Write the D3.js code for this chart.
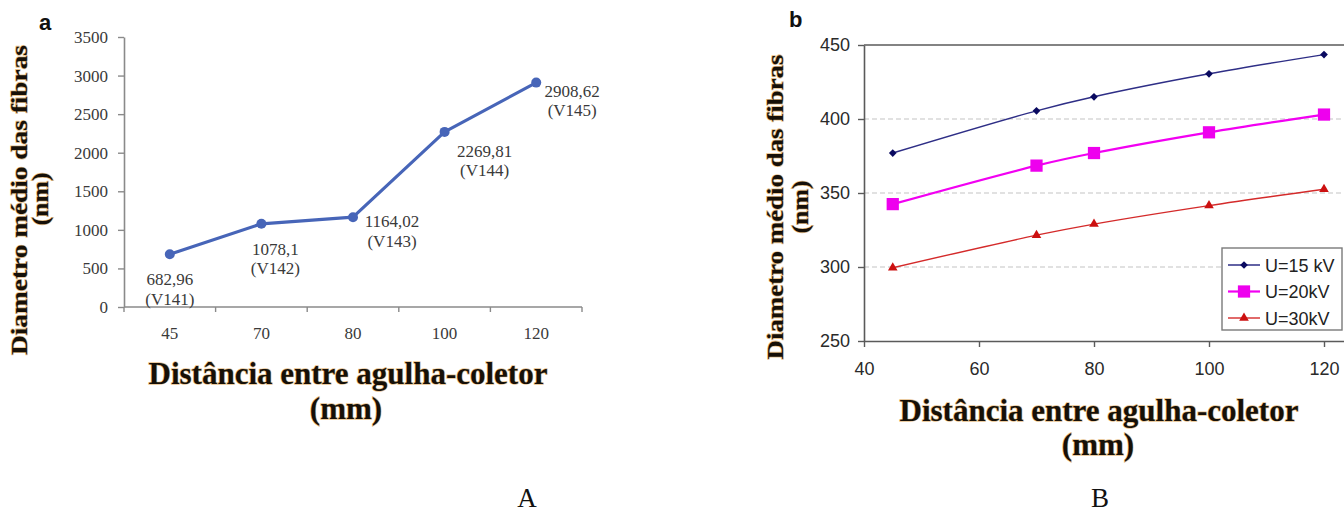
<!DOCTYPE html>
<html>
<head>
<meta charset="utf-8">
<script src="https://cdn.jsdelivr.net/npm/d3@7"></script>
<style>
  html, body { margin: 0; padding: 0; background: #fff; }
  svg { display: block; }
</style>
</head>
<body>
<svg id="fig" width="1344" height="512"></svg>
<script>
// ---- Panel a: mean fibre diameter per sample ----
const distCatsA = ["45", "70", "80", "100", "120"];
const diamA = [682.96, 1078.1, 1164.02, 2269.81, 2908.62];
const valueTextA = ["682,96", "1078,1", "1164,02", "2269,81", "2908,62"];
const sampleA = ["(V141)", "(V142)", "(V143)", "(V144)", "(V145)"];
const yTicksA = [0, 500, 1000, 1500, 2000, 2500, 3000, 3500];

// ---- Panel b: mean fibre diameter vs distance, per voltage ----
const distB = [45, 70, 80, 100, 120];
const u15 = [377, 405.5, 415, 430.5, 443.5];
const u20 = [342.5, 368.5, 377, 391, 403];
const u30 = [299.5, 321.5, 329, 341.5, 352.5];
const seriesNamesB = ["U=15 kV", "U=20kV", "U=30kV"];
const yTicksB = [250, 300, 350, 400, 450];
const xTicksB = [40, 60, 80, 100, 120];

const yTitle = ["Diametro médio das fibras", "(nm)"];
const xTitle = ["Distância entre agulha-coletor", "(mm)"];

const SERIF = "'Liberation Serif', 'Times New Roman', serif";
const SANS = "'Liberation Sans', Arial, sans-serif";

const svg = d3.select("#fig");

// bold serif title with a warm fringe under the dark glyphs
function haloText(g, txt, attrs) {
  [["#d08a28", 1.4, 0.55], [null, 0, 1]].forEach(([stroke, sw, op]) => {
    const t = g.append("text").text(txt)
      .attr("font-family", SERIF).attr("font-weight", "bold")
      .attr("fill", stroke ? "none" : "#161008");
    if (stroke) t.attr("stroke", stroke).attr("stroke-width", sw).attr("stroke-opacity", op);
    Object.entries(attrs).forEach(([k, v]) => t.attr(k, v));
  });
}

// ================= Panel a =================
const gA = svg.append("g");
const xA = d3.scaleBand().domain(distCatsA).range([124, 582]);
const yA = d3.scaleLinear().domain([0, 3500]).range([307, 37]);
const axisGrey = "#8a8a8a";

const yAxisA = gA.append("g").attr("transform", "translate(124,0)")
  .call(d3.axisLeft(yA).tickValues(yTicksA).tickSize(6).tickSizeOuter(0).tickPadding(10).tickFormat(d3.format("d")));
yAxisA.select(".domain").attr("stroke", axisGrey).attr("stroke-width", 1.6);
yAxisA.selectAll(".tick line").attr("stroke", axisGrey).attr("stroke-width", 1.4);
yAxisA.selectAll(".tick text").attr("font-family", SERIF).attr("font-size", 17).attr("fill", "#3a3a3a");

// category axis: ticks sit on band boundaries
gA.append("line").attr("x1", xA.range()[0]).attr("x2", xA.range()[1])
  .attr("y1", yA(0)).attr("y2", yA(0)).attr("stroke", axisGrey).attr("stroke-width", 1.6);
const bounds = distCatsA.map(d => xA(d)).concat([xA.range()[1]]);
gA.selectAll("line.xt").data(bounds).join("line").attr("class", "xt")
  .attr("x1", d => d).attr("x2", d => d).attr("y1", yA(0)).attr("y2", yA(0) + 5)
  .attr("stroke", axisGrey).attr("stroke-width", 1.4);
gA.selectAll("text.xl").data(distCatsA).join("text").attr("class", "xl")
  .attr("x", d => xA(d) + xA.bandwidth() / 2).attr("y", 339)
  .attr("text-anchor", "middle").attr("font-family", SERIF).attr("font-size", 17).attr("fill", "#3a3a3a")
  .text(d => d);

const ptsA = distCatsA.map((c, i) => ({ x: xA(c) + xA.bandwidth() / 2, y: yA(diamA[i]), i }));
const blue = "#4765b8";
gA.append("path").datum(ptsA)
  .attr("d", d3.line().x(d => d.x).y(d => d.y))
  .attr("fill", "none").attr("stroke", blue).attr("stroke-width", 3.2).attr("stroke-linejoin", "round");
gA.selectAll("circle").data(ptsA).join("circle")
  .attr("cx", d => d.x).attr("cy", d => d.y).attr("r", 5).attr("fill", blue);

// value labels, placed relative to each point
const labelOffsetA = [[0, 31], [14, 31], [39, 10], [40, 25], [36, 14]];
ptsA.forEach(p => {
  const [dx, dy] = labelOffsetA[p.i];
  const t = gA.append("text").attr("text-anchor", "middle")
    .attr("font-family", SERIF).attr("font-size", 17).attr("fill", "#3a3a3a");
  t.append("tspan").attr("x", p.x + dx).attr("y", p.y + dy).text(valueTextA[p.i]);
  t.append("tspan").attr("x", p.x + dx).attr("y", p.y + dy + 19.5).text(sampleA[p.i]);
});

gA.append("text").attr("x", 39).attr("y", 30).attr("font-family", SANS)
  .attr("font-weight", "bold").attr("font-size", 22).attr("fill", "#111").text("a");

haloText(gA, yTitle[0], { transform: "translate(27,200) rotate(-90)", "text-anchor": "middle",
  "font-size": 23, textLength: 310, lengthAdjust: "spacingAndGlyphs" });
haloText(gA, yTitle[1], { transform: "translate(48,199) rotate(-90)", "text-anchor": "middle",
  "font-size": 23, textLength: 53, lengthAdjust: "spacingAndGlyphs" });
haloText(gA, xTitle[0], { x: 348, y: 384, "text-anchor": "middle", "font-size": 31 });
haloText(gA, xTitle[1], { x: 346, y: 419, "text-anchor": "middle", "font-size": 31 });

gA.append("text").attr("x", 527).attr("y", 507).attr("text-anchor", "middle")
  .attr("font-family", SERIF).attr("font-size", 27).attr("fill", "#111").text("A");

// ================= Panel b =================
const gB = svg.append("g");
const xB = d3.scaleLinear().domain([40, 140]).range([864, 1439]);
const yB = d3.scaleLinear().domain([250, 450]).range([341, 45]);
const frame = "#5a5a5a";

gB.selectAll("line.grid").data(yTicksB.slice(1, -1)).join("line").attr("class", "grid")
  .attr("x1", xB(40)).attr("x2", xB(140)).attr("y1", d => yB(d)).attr("y2", d => yB(d))
  .attr("stroke", "#c4c4c4").attr("stroke-width", 1.2).attr("stroke-dasharray", "5,3");

const yAxisB = gB.append("g").attr("transform", `translate(${xB(40)},0)`)
  .call(d3.axisLeft(yB).tickValues(yTicksB).tickSize(6).tickSizeOuter(0).tickPadding(8));
const xAxisB = gB.append("g").attr("transform", `translate(0,${yB(250)})`)
  .call(d3.axisBottom(xB).tickValues(xTicksB).tickSize(6).tickSizeOuter(0).tickPadding(15));
[yAxisB, xAxisB].forEach(ax => {
  ax.select(".domain").attr("stroke", frame).attr("stroke-width", 1.6);
  ax.selectAll(".tick line").attr("stroke", frame).attr("stroke-width", 1.4);
  ax.selectAll(".tick text").attr("font-family", SANS).attr("font-size", 18).attr("fill", "#2a2a2a");
});
gB.append("line").attr("x1", xB(40)).attr("x2", xB(140)).attr("y1", yB(450)).attr("y2", yB(450))
  .attr("stroke", frame).attr("stroke-width", 1.6);

const seriesB = [
  { name: seriesNamesB[0], vals: u15, line: "#2e2e86", lw: 1.5, fill: "#0a0a60", sym: d3.symbolSquare, size: 30, rot: 45 },
  { name: seriesNamesB[1], vals: u20, line: "#f200f2", lw: 2.2, fill: "#ee00ee", sym: d3.symbolSquare, size: 150, rot: 0 },
  { name: seriesNamesB[2], vals: u30, line: "#d42a2a", lw: 1.4, fill: "#cc1010", sym: d3.symbolTriangle, size: 40, rot: 0 }
];
const curve = d3.line().x(d => xB(d[0])).y(d => yB(d[1])).curve(d3.curveCatmullRom);
seriesB.forEach(s => {
  const pts = distB.map((x, i) => [x, s.vals[i]]);
  gB.append("path").datum(pts).attr("d", curve)
    .attr("fill", "none").attr("stroke", s.line).attr("stroke-width", s.lw);
  gB.selectAll(null).data(pts).join("path")
    .attr("d", d3.symbol(s.sym, s.size))
    .attr("transform", d => `translate(${xB(d[0])},${yB(d[1])}) rotate(${s.rot})`)
    .attr("fill", s.fill);
});

// legend
const lg = gB.append("g");
lg.append("rect").attr("x", 1222).attr("y", 248).attr("width", 120).attr("height", 82)
  .attr("fill", "#fff").attr("stroke", "#7a7a7a").attr("stroke-width", 1.4);
seriesB.forEach((s, i) => {
  const cy = 265 + i * 26.5;
  lg.append("line").attr("x1", 1228).attr("x2", 1260).attr("y1", cy).attr("y2", cy)
    .attr("stroke", s.line).attr("stroke-width", s.lw);
  lg.append("path").attr("d", d3.symbol(s.sym, s.size))
    .attr("transform", `translate(1244,${cy}) rotate(${s.rot})`).attr("fill", s.fill);
  lg.append("text").attr("x", 1265).attr("y", cy + 6.5).attr("font-family", SANS)
    .attr("font-size", 18).attr("fill", "#222").text(s.name);
});

gB.append("text").attr("x", 789).attr("y", 27).attr("font-family", SANS)
  .attr("font-weight", "bold").attr("font-size", 22).attr("fill", "#111").text("b");

haloText(gB, yTitle[0], { transform: "translate(783,207) rotate(-90)", "text-anchor": "middle",
  "font-size": 23, textLength: 305, lengthAdjust: "spacingAndGlyphs" });
haloText(gB, yTitle[1], { transform: "translate(808,207) rotate(-90)", "text-anchor": "middle",
  "font-size": 23, textLength: 53, lengthAdjust: "spacingAndGlyphs" });
haloText(gB, xTitle[0], { x: 1099, y: 421, "text-anchor": "middle", "font-size": 31 });
haloText(gB, xTitle[1], { x: 1098, y: 455, "text-anchor": "middle", "font-size": 31 });

gB.append("text").attr("x", 1100).attr("y", 507).attr("text-anchor", "middle")
  .attr("font-family", SERIF).attr("font-size", 27).attr("fill", "#111").text("B");
</script>
</body>
</html>
